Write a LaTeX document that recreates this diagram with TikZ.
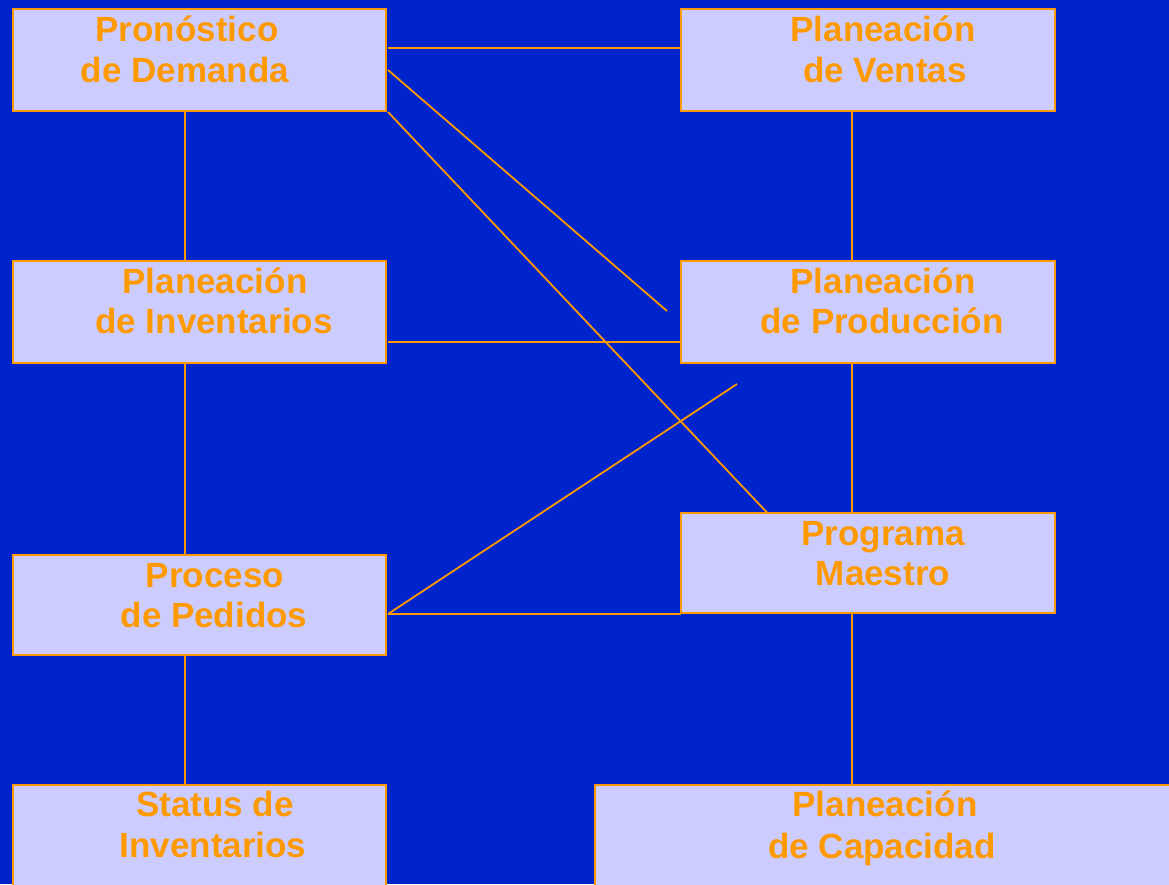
\documentclass[tikz,border=0pt]{standalone}
\usepackage{fontspec}
\setmainfont{Liberation Sans}
\usetikzlibrary{calc}
\definecolor{bgblue}{RGB}{0,36,204}
\definecolor{boxfill}{RGB}{204,204,255}
\definecolor{orangeline}{RGB}{255,153,0}
\tikzset{
  box/.style={draw=orangeline, fill=boxfill, line width=2pt},
  link/.style={draw=orangeline, line width=1.8pt},
  lbl/.style={anchor=base, inner sep=0pt, text=orangeline,
    font=\fontsize{35}{42}\selectfont\bfseries}
}
\begin{document}
\begin{tikzpicture}[x=1pt,y=-1pt]
\useasboundingbox (0,0) rectangle (1169,884);
\fill[bgblue] (0,0) rectangle (1169,884);

% boxes
\draw[box] (12.5,8.5) rectangle (385.5,110.5);
\draw[box] (680.5,8.5) rectangle (1055,110.5);
\draw[box] (12.5,260.5) rectangle (385.5,362.5);
\draw[box] (680.5,260.5) rectangle (1055,362.5);
\draw[box] (12.5,554.5) rectangle (385.5,654.5);
\draw[box] (680.5,512.5) rectangle (1055,612.5);
\draw[box] (12.5,784.5) rectangle (385.5,900);
\draw[box] (594.5,784.5) rectangle (1180,900);

% connector ends on the box outlines
\coordinate (pdS) at (185,110.5);
\coordinate (piN) at (185,260.5);
\coordinate (piS) at (185,362.5);
\coordinate (prN) at (185,554.5);
\coordinate (prS) at (185,654.5);
\coordinate (siN) at (185,784.5);
\coordinate (pvS) at (852,110.5);
\coordinate (ppN) at (852,260.5);
\coordinate (ppS) at (852,362.5);
\coordinate (pmN) at (852,512.5);
\coordinate (pmS) at (852,612.5);
\coordinate (pcN) at (852,784.5);

\coordinate (pdR1) at (388,48);
\coordinate (pvW)  at (680.5,48);
\coordinate (pdR2) at (388,70);
\coordinate (ppA)  at (667,311);
\coordinate (pdR3) at (388,112);
\coordinate (pmT)  at (767,512.5);
\coordinate (piR)  at (388,342);
\coordinate (ppW)  at (680.5,342);
\coordinate (prR)  at (388,614);
\coordinate (pmW)  at (680.5,614);
\coordinate (ppB)  at (737,384);

% connectors
\draw[link] (pdS) -- (piN);
\draw[link] (piS) -- (prN);
\draw[link] (prS) -- (siN);
\draw[link] (pvS) -- (ppN);
\draw[link] (ppS) -- (pmN);
\draw[link] (pmS) -- (pcN);
\draw[link] (pdR1) -- (pvW);
\draw[link] (pdR2) -- (ppA);
\draw[link] (pdR3) -- (pmT);
\draw[link] (piR) -- (ppW);
\draw[link] (prR) -- (pmW);
\draw[link] (prR) -- (ppB);

% labels
\node[lbl] (t1a) at (187,41) {Pronóstico};
\node[lbl] (t1b) at (185,82) {de Demanda};
\node[lbl] (t2a) at (883,41) {Planeación};
\node[lbl] (t2b) at (885,82) {de Ventas};
\node[lbl] (t3a) at (215,293) {Planeación};
\node[lbl] (t3b) at (214,333) {de Inventarios};
\node[lbl] (t4a) at (883,293) {Planeación};
\node[lbl] (t4b) at (882,333) {de Producción};
\node[lbl] (t5a) at (215,587) {Proceso};
\node[lbl] (t5b) at (214,627) {de Pedidos};
\node[lbl] (t6a) at (883,545) {Programa};
\node[lbl] (t6b) at (883,585) {Maestro};
\node[lbl] (t7a) at (215,816) {Status de};
\node[lbl] (t7b) at (213,857) {Inventarios};
\node[lbl] (t8a) at (885,816) {Planeación};
\node[lbl] (t8b) at (882,858) {de Capacidad};
\end{tikzpicture}
\end{document}
